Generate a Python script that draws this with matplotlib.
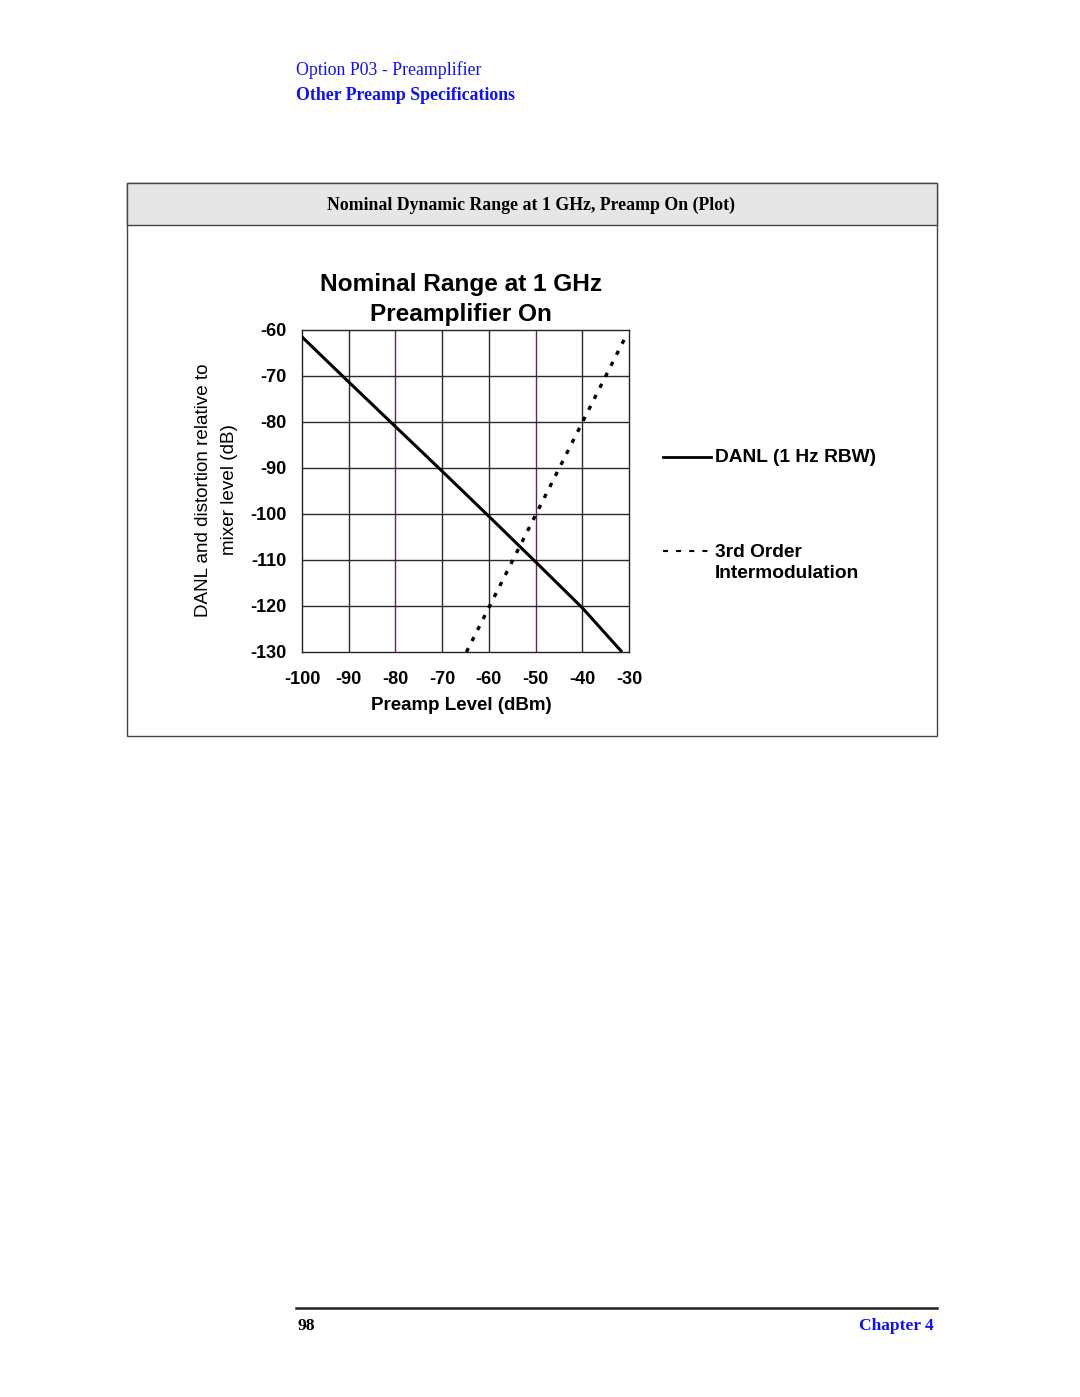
import matplotlib
matplotlib.use("Agg")
import matplotlib.pyplot as plt
from matplotlib.patches import Rectangle
from matplotlib.lines import Line2D

# ---- data ----
x_ticks = [-100, -90, -80, -70, -60, -50, -40, -30]
y_ticks = [-60, -70, -80, -90, -100, -110, -120, -130]
danl_x = [-100, -90, -80, -70, -60, -50, -40, -31.5]
danl_y = [-61.5, -71.3, -81.0, -90.7, -100.5, -110.4, -120.4, -130]
toi_x = [-64.8, -31]
toi_y = [-130, -62]

W, H = 1080, 1397
fig = plt.figure(figsize=(W / 100, H / 100), dpi=100)

def fx(px):
    return px / W

def fy(py):
    return 1 - py / H

blue = "#1010f0"
serif = "Liberation Serif"
sans = "Liberation Sans"

# page header
fig.text(fx(296), fy(70), "Option P03 - Preamplifier", color=blue, family=serif,
         fontsize=12.8, va="center", ha="left")
fig.text(fx(296), fy(96), "Other Preamp Specifications", color=blue, family=serif,
         fontsize=12.8, fontweight="bold", va="center", ha="left")

# box
fig.patches.append(Rectangle((fx(127), fy(736)), fx(937) - fx(127), fy(183) - fy(736),
                             transform=fig.transFigure, facecolor="none",
                             edgecolor="#444444", lw=1.0, zorder=0))
fig.patches.append(Rectangle((fx(127), fy(225)), fx(937) - fx(127), fy(183) - fy(225),
                             transform=fig.transFigure, facecolor="#e6e6e6",
                             edgecolor="#444444", lw=1.0, zorder=0))
fig.text(fx(531), fy(205), "Nominal Dynamic Range at 1 GHz, Preamp On (Plot)",
         family=serif, fontsize=12.8, fontweight="bold", ha="center", va="center")

# axes
ax = fig.add_axes([fx(302), fy(652), fx(629) - fx(302), fy(330) - fy(652)])
ax.set_zorder(3)
ax.set_xlim(-100, -30)
ax.set_ylim(-130, -60)
ax.set_xticks(x_ticks)
ax.set_yticks(y_ticks)
ax.set_xticklabels([str(v) for v in x_ticks])
ax.set_yticklabels([str(v) for v in y_ticks])
ax.tick_params(length=0, labelsize=13)
ax.tick_params(axis="x", pad=14)
ax.tick_params(axis="y", pad=11)
for lab in ax.get_xticklabels() + ax.get_yticklabels():
    lab.set_family(sans)
    lab.set_fontweight("bold")
for xv in x_ticks[1:-1]:
    col = "#5a2a5a" if xv in (-80, -50) else "#2a2a2a"
    ax.axvline(xv, color=col, lw=1.0, zorder=1)
for yv in y_ticks[1:-1]:
    ax.axhline(yv, color="#2a2a2a", lw=1.0, zorder=1)
for s in ax.spines.values():
    s.set_color("#222222")
    s.set_linewidth(1.0)

ax.plot(danl_x, danl_y, color="black", lw=2.2, zorder=3, solid_capstyle="butt")
ax.plot(toi_x, toi_y, color="black", lw=2.4, linestyle=(0, (1.3, 2.4)), zorder=3)

# x label
fig.text(fx(461), fy(706), "Preamp Level (dBm)", family=sans, fontsize=13.5,
         fontweight="bold", ha="center", va="center")

# title
fig.text(fx(461), fy(285), "Nominal Range at 1 GHz", family=sans, fontsize=17.6,
         fontweight="bold", ha="center", va="center")
fig.text(fx(461), fy(314), "Preamplifier On", family=sans, fontsize=17.6,
         fontweight="bold", ha="center", va="center")

# y label
fig.text(fx(204), fy(490), "DANL and distortion relative to", family=sans, fontsize=13.6,
         rotation=90, ha="center", va="center")
fig.text(fx(229), fy(490), "mixer level (dB)", family=sans, fontsize=13.6,
         rotation=90, ha="center", va="center")

# legend
fig.lines.append(Line2D([fx(663), fx(711)], [fy(457), fy(457)], transform=fig.transFigure,
                        color="black", lw=2))
fig.text(fx(715), fy(458), "DANL (1 Hz RBW)", family=sans, fontsize=13.8,
         fontweight="bold", ha="left", va="center")
fig.lines.append(Line2D([fx(663), fx(711)], [fy(551), fy(551)], transform=fig.transFigure,
                        color="black", lw=1.5, linestyle=(0, (2.4, 3.9))))
fig.text(fx(715), fy(552), "3rd Order", family=sans, fontsize=13.8,
         fontweight="bold", ha="left", va="center")
fig.text(fx(715), fy(573), "Intermodulation", family=sans, fontsize=13.8,
         fontweight="bold", ha="left", va="center")

# footer
fig.lines.append(Line2D([fx(296), fx(937)], [fy(1308), fy(1308)], transform=fig.transFigure,
                        color="#222222", lw=1.8))
fig.text(fx(297), fy(1326), "98", family=serif, fontsize=12.5, fontweight="bold",
         ha="left", va="center")
fig.text(fx(934), fy(1326), "Chapter 4", family=serif, fontsize=12.5, fontweight="bold",
         color=blue, ha="right", va="center")

fig.savefig("out.png", dpi=100, facecolor="white")
